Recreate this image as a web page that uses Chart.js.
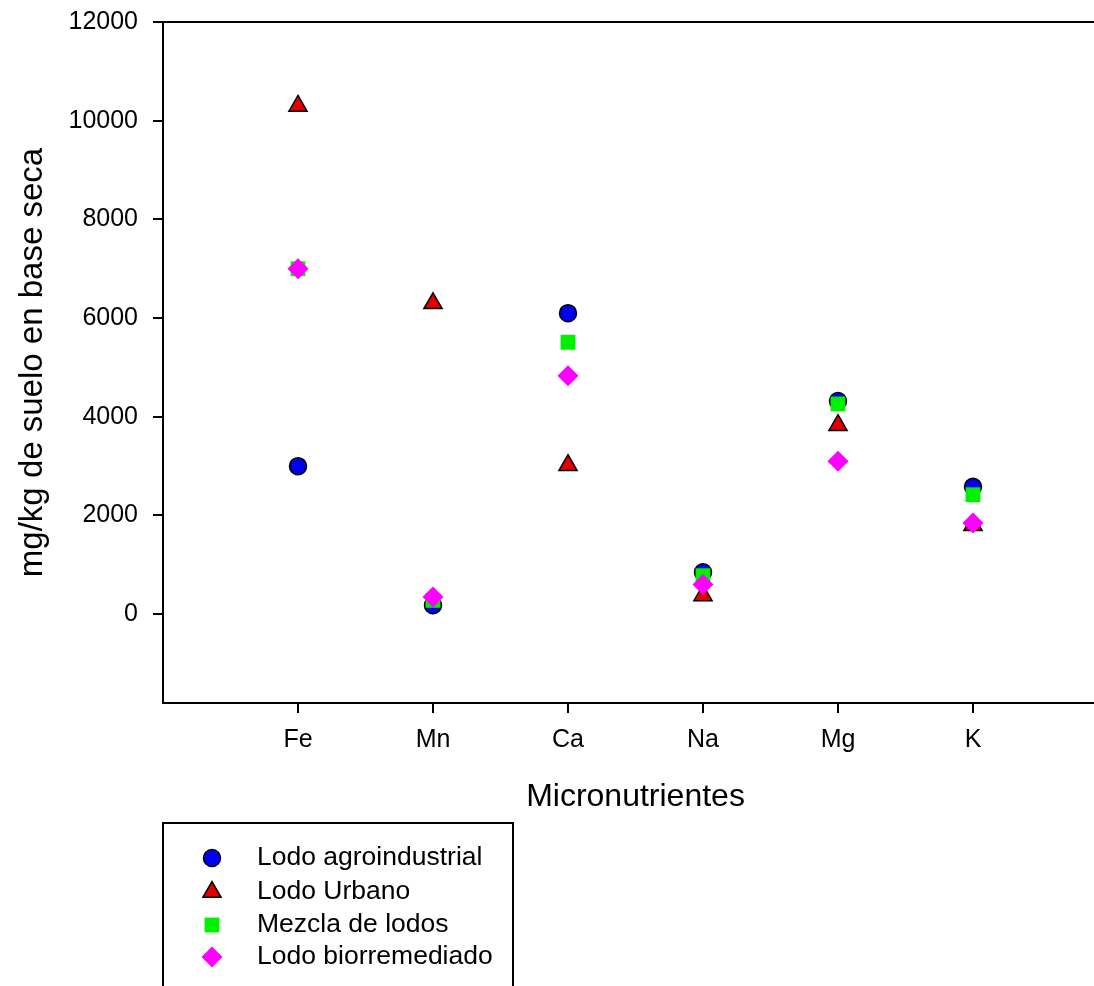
<!DOCTYPE html>
<html>
<head>
<meta charset="utf-8">
<script src="https://cdn.jsdelivr.net/npm/chart.js@4"></script>
<style>
  html, body { margin: 0; padding: 0; background: #fff; overflow: hidden; }
  #wrap { width: 1120px; height: 986px; position: relative; }
</style>
</head>
<body>
<div id="wrap"><canvas id="c" width="1120" height="986"></canvas></div>
<script>
const categories = ['Fe', 'Mn', 'Ca', 'Na', 'Mg', 'K'];
const yTickValues = [0, 2000, 4000, 6000, 8000, 10000, 12000];
const seriesNames = ['Lodo agroindustrial', 'Lodo Urbano', 'Mezcla de lodos', 'Lodo biorremediado'];
const lodoAgroindustrial = [3000, 180, 6100, 850, 4320, 2580];
const lodoUrbano = [10300, 6300, 3020, 380, 3830, 1800];
const mezclaDeLodos = [7000, 280, 5510, 780, 4260, 2420];
const lodoBiorremediado = [7000, 350, 4830, 600, 3100, 1850];

const FONT = "'Liberation Sans', Arial, sans-serif";

function toPoints(arr) { return arr.map((v, i) => ({ x: i + 1, y: v })); }

const styles = [
  { pointStyle: 'circle', radius: 8.5, bg: '#0000F0', border: '#000', bw: 1.5, order: 3 },
  { pointStyle: 'triangle', radius: 10.5, bg: '#E00000', border: '#000', bw: 1.5, order: 2 },
  { pointStyle: 'rect', radius: 10.5, bg: '#00F000', border: '#00F000', bw: 0, order: 1 },
  { pointStyle: 'rectRot', radius: 10.5, bg: '#FF00FF', border: '#FF00FF', bw: 0, order: 0 }
];
const seriesData = [lodoAgroindustrial, lodoUrbano, mezclaDeLodos, lodoBiorremediado];

const datasets = seriesData.map((d, i) => ({
  label: seriesNames[i],
  data: toPoints(d),
  pointStyle: styles[i].pointStyle,
  pointRadius: styles[i].radius,
  pointHoverRadius: styles[i].radius,
  pointBackgroundColor: styles[i].bg,
  pointBorderColor: styles[i].border,
  pointBorderWidth: styles[i].bw,
  order: styles[i].order,
  showLine: false
}));

const legendBox = {
  id: 'legendBox',
  afterDraw(chart) {
    const ctx = chart.ctx;
    const left = chart.chartArea.left;
    const top = 823;
    ctx.save();
    ctx.strokeStyle = '#000';
    ctx.lineWidth = 2;
    ctx.strokeRect(left, top, 350, 200);
    const rows = [858, 892, 925, 957];
    ctx.font = '26.5px ' + FONT;
    ctx.textBaseline = 'middle';
    ctx.textAlign = 'left';
    seriesNames.forEach((name, i) => {
      const s = styles[i];
      ctx.fillStyle = s.bg;
      ctx.strokeStyle = s.border;
      ctx.lineWidth = s.bw;
      Chart.helpers.drawPoint(ctx, { pointStyle: s.pointStyle, radius: s.radius, rotation: 0, borderWidth: s.bw }, left + 49, rows[i]);
      ctx.fillStyle = '#000';
      ctx.fillText(name, left + 94, rows[i]);
    });
    ctx.restore();
  }
};

new Chart(document.getElementById('c'), {
  type: 'scatter',
  data: { datasets },
  options: {
    responsive: false,
    animation: false,
    events: [],
    layout: { padding: { left: 0, top: 22, right: 12, bottom: 166 } },
    plugins: { legend: { display: false }, tooltip: { enabled: false } },
    scales: {
      x: {
        type: 'linear', position: 'bottom', min: 0, max: 7,
        afterBuildTicks: (s) => { s.ticks = categories.map((c, i) => ({ value: i + 1 })); },
        afterFit: (s) => { s.height = 117; s.paddingLeft = 0; s.paddingRight = 0; },
        ticks: {
          callback: (v) => categories[v - 1] || '',
          font: { family: FONT, size: 25 }, color: '#000', padding: 12, maxRotation: 0, autoSkip: false
        },
        grid: { drawOnChartArea: false, drawTicks: true, tickLength: 10, color: '#000', lineWidth: 2 },
        border: { display: true, color: '#000', width: 2 },
        title: { display: true, text: 'Micronutrientes', font: { family: FONT, size: 32 }, color: '#000', padding: { top: 0, bottom: 4 } }
      },
      xTop: {
        type: 'linear', position: 'top', min: 0, max: 7,
        afterFit: (s) => { s.height = 0; s.paddingLeft = 0; s.paddingRight = 0; },
        ticks: { display: false },
        grid: { display: false, drawTicks: false },
        border: { display: true, color: '#000', width: 2 }
      },
      y: {
        type: 'linear', position: 'left', min: -1800, max: 12000,
        afterBuildTicks: (s) => { s.ticks = yTickValues.map(v => ({ value: v })); },
        afterFit: (s) => { s.width = 163; s.paddingTop = 0; s.paddingBottom = 0; },
        ticks: { font: { family: FONT, size: 25 }, color: '#000', padding: 15, callback: (v) => String(v) },
        grid: { drawOnChartArea: false, drawTicks: true, tickLength: 10, color: '#000', lineWidth: 2 },
        border: { display: true, color: '#000', width: 2 },
        title: { display: true, text: 'mg/kg de suelo en base seca', font: { family: FONT, size: 33 }, color: '#000', padding: { top: 13, bottom: 0 } }
      }
    }
  },
  plugins: [legendBox]
});
</script>
</body>
</html>
